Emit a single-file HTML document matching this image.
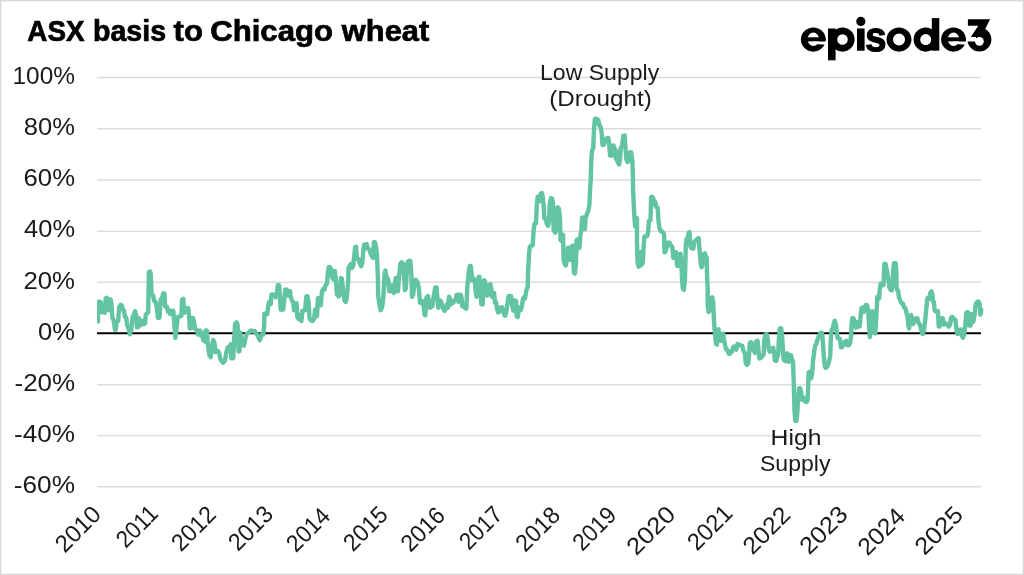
<!DOCTYPE html>
<html>
<head>
<meta charset="utf-8">
<title>ASX basis to Chicago wheat</title>
<style>
html,body{margin:0;padding:0;background:#fff;}
body{width:1024px;height:575px;overflow:hidden;font-family:"Liberation Sans",sans-serif;}
#chart{position:absolute;left:0;top:0;width:1024px;height:575px;box-sizing:border-box;border:1px solid #d8d8d8;box-shadow:inset 0 0 0 1px #f3f3f3;background:#fff;}
svg{position:absolute;left:-1px;top:-1px;will-change:transform;}
svg text{font-family:"Liberation Sans",sans-serif;fill:#1a1a1a;}
.ttl text{font-size:28.6px;font-weight:bold;fill:#000;stroke:#000;stroke-width:0.7px;}
.ax text{font-size:24px;}
.xl text{font-size:24px;}
.ann text{font-size:22.5px;}
</style>
</head>
<body>
<div id="chart">
<svg width="1024" height="575" viewBox="0 0 1024 575">
<g class="ttl">
<text y="41.45"><tspan x="27.37" textLength="57.10" lengthAdjust="spacingAndGlyphs">ASX</tspan> <tspan x="93.03" textLength="73.06" lengthAdjust="spacingAndGlyphs">basis</tspan> <tspan x="173.62" textLength="29.44" lengthAdjust="spacingAndGlyphs">to</tspan> <tspan x="210.24" textLength="122.73" lengthAdjust="spacingAndGlyphs">Chicago</tspan> <tspan x="341.87" textLength="87.33" lengthAdjust="spacingAndGlyphs">wheat</tspan></text>
</g>
<g id="logo" fill="#000" role="img" aria-label="episode3"><title>episode3</title>
<ellipse cx="813.3" cy="39.6" rx="12.4" ry="12.05"/><ellipse cx="813.3" cy="39.2" rx="5.7" ry="6.7" fill="#fff"/><rect x="805.3" y="37.3" width="20.10" height="4.1"/><polygon points="812.3,41.4 826.6999999999999,41.4 826.6999999999999,44.7 818.8,44.2 812.3,44.2" fill="#fff"/>
<rect x="828" y="28.5" width="7.6" height="31.8"/><path fill-rule="evenodd" d="M830.40,39.55 a12.1,12.1 0 1,0 24.20,0 a12.1,12.1 0 1,0 -24.20,0 Z M837.20,39.55 a5.3,5.3 0 1,0 10.60,0 a5.3,5.3 0 1,0 -10.60,0 Z"/>
<rect x="857" y="28.5" width="7.6" height="22.2"/><circle cx="860.8" cy="21.4" r="4.6"/>
<path d="M884.89 44.62Q884.89 47.84 882.49 49.67Q880.09 51.51 875.86 51.51Q871.69 51.51 869.48 50.06Q867.27 48.62 866.54 45.56L871.15 44.80Q871.55 46.38 872.51 47.04Q873.47 47.70 875.86 47.70Q878.06 47.70 879.07 47.08Q880.07 46.47 880.07 45.15Q880.07 44.09 879.26 43.46Q878.45 42.84 876.51 42.40Q872.07 41.44 870.52 40.61Q868.97 39.78 868.16 38.46Q867.35 37.13 867.35 35.21Q867.35 32.03 869.58 30.25Q871.81 28.48 875.89 28.48Q879.50 28.48 881.69 30.02Q883.88 31.56 884.42 34.47L879.78 35.00Q879.55 33.65 878.67 32.98Q877.80 32.31 875.89 32.31Q874.03 32.31 873.09 32.84Q872.16 33.36 872.16 34.59Q872.16 35.56 872.88 36.12Q873.60 36.68 875.30 37.05Q877.67 37.59 879.50 38.15Q881.34 38.71 882.45 39.49Q883.56 40.27 884.23 41.49Q884.89 42.71 884.89 44.62Z" stroke="#000" stroke-width="1.15"/>
<path fill-rule="evenodd" d="M886.55,39.55 a12.45,12.1 0 1,0 24.90,0 a12.45,12.1 0 1,0 -24.90,0 Z M893.00,39.55 a6.0,6.0 0 1,0 12.00,0 a6.0,6.0 0 1,0 -12.00,0 Z"/>
<path fill-rule="evenodd" d="M913.60,39.55 a12.1,12.1 0 1,0 24.20,0 a12.1,12.1 0 1,0 -24.20,0 Z M920.20,39.55 a5.5,5.5 0 1,0 11.00,0 a5.5,5.5 0 1,0 -11.00,0 Z"/><rect x="931.8" y="18.1" width="7.5" height="32.6"/>
<ellipse cx="953.5" cy="39.6" rx="12.4" ry="12.05"/><ellipse cx="953.5" cy="39.2" rx="5.7" ry="6.7" fill="#fff"/><rect x="945.5" y="37.3" width="20.10" height="4.1"/><polygon points="952.5,41.4 966.9,41.4 966.9,44.7 959.0,44.2 952.5,44.2" fill="#fff"/>
<circle cx="979.4" cy="39.6" r="12"/><polygon points="966.9,18.6 992,18.6 992,26.5 978,26.5 971,36.9 976,36.9 976,41.5 966.9,41.5" fill="#fff"/><circle cx="979.4" cy="41.3" r="4.4" fill="#fff"/><polygon points="967.9,19.3 990.1,19.3 983.4,32.4 979.5,36.9 971,36.9 978.3,25.8 967.9,25.8"/>
</g>
<g>
<line x1="97" x2="981" y1="77.55" y2="77.55" stroke="#dcdcdc" stroke-width="1.4"/>
<line x1="97" x2="981" y1="128.70" y2="128.70" stroke="#dcdcdc" stroke-width="1.4"/>
<line x1="97" x2="981" y1="179.95" y2="179.95" stroke="#dcdcdc" stroke-width="1.4"/>
<line x1="97" x2="981" y1="231.35" y2="231.35" stroke="#dcdcdc" stroke-width="1.4"/>
<line x1="97" x2="981" y1="282.20" y2="282.20" stroke="#dcdcdc" stroke-width="1.4"/>
<line x1="97" x2="981" y1="384.70" y2="384.70" stroke="#dcdcdc" stroke-width="1.4"/>
<line x1="97" x2="981" y1="435.65" y2="435.65" stroke="#dcdcdc" stroke-width="1.4"/>
<line x1="97" x2="981" y1="486.70" y2="486.70" stroke="#dcdcdc" stroke-width="1.4"/>
</g>
<line x1="97" x2="981" y1="333.27" y2="333.27" stroke="#000" stroke-width="2"/>
<clipPath id="plotclip"><rect x="96.9" y="60" width="900" height="440"/></clipPath>
<path clip-path="url(#plotclip)" d="M98.0,321.5 L98.1,302.1 L99.4,301.6 L100.7,302.1 L101.5,312.1 L103.2,312.2 L104.8,312.7 L105.7,298.3 L106.9,297.8 L108.2,299.6 L108.8,310.4 L109.8,300.1 L110.7,299.6 L111.5,304.6 L112.3,317.1 L113.8,320.9 L115.0,329.6 L115.7,329.8 L116.5,322.1 L118.2,320.9 L119.1,307.1 L120.7,304.8 L121.9,305.8 L122.8,309.7 L123.8,310.1 L125.1,317.1 L126.3,317.7 L127.0,324.6 L128.8,329.6 L129.9,334.3 L131.3,329.6 L132.6,317.1 L133.8,314.6 L135.1,311.4 L136.1,314.6 L137.0,327.3 L138.2,327.1 L138.8,318.2 L140.1,325.4 L141.6,320.7 L143.2,324.1 L145.1,323.4 L145.7,314.6 L147.0,313.4 L148.2,312.1 L148.9,272.0 L150.1,271.5 L150.8,274.5 L151.6,294.6 L153.2,295.2 L154.1,300.8 L155.8,302.1 L157.0,308.3 L157.9,317.9 L159.5,317.7 L160.8,299.6 L162.0,298.3 L163.3,293.3 L164.5,293.6 L165.2,306.6 L167.0,307.0 L167.9,311.6 L168.9,310.1 L170.2,314.1 L171.4,310.7 L173.3,310.9 L174.2,322.1 L175.3,337.9 L176.4,329.6 L177.7,317.1 L179.6,316.4 L181.4,316.0 L182.1,299.6 L183.3,298.8 L184.2,312.9 L185.8,308.3 L188.3,308.2 L189.2,318.4 L189.8,328.3 L191.3,328.2 L191.9,318.0 L193.2,318.1 L194.4,323.8 L195.0,328.8 L196.9,330.0 L198.2,334.6 L200.0,330.5 L201.3,335.8 L202.6,333.1 L203.2,340.1 L205.1,341.4 L205.7,330.5 L206.9,330.7 L207.8,343.8 L209.4,355.1 L210.7,357.1 L211.9,347.6 L213.2,339.9 L214.4,342.6 L215.7,352.1 L216.9,350.6 L218.2,351.3 L219.4,353.8 L220.3,358.9 L222.0,361.4 L223.2,362.7 L225.1,360.1 L226.3,352.6 L227.6,347.6 L228.8,346.8 L229.8,350.8 L230.7,344.3 L231.3,358.4 L233.2,358.2 L234.1,341.3 L235.1,323.8 L236.6,322.4 L237.6,325.0 L238.6,351.5 L239.5,351.3 L240.1,332.4 L241.4,338.8 L242.0,345.2 L243.9,345.7 L245.1,340.1 L246.4,334.4 L247.6,333.2 L249.5,331.9 L251.1,330.5 L252.7,331.4 L254.9,331.2 L256.4,333.2 L258.3,336.9 L259.9,340.2 L261.2,335.1 L262.4,334.3 L263.3,334.6 L264.2,325.0 L264.4,313.6 L265.7,313.9 L267.3,314.1 L268.2,305.8 L269.0,302.1 L270.0,301.9 L270.7,304.1 L271.5,294.6 L273.2,294.4 L274.4,294.6 L275.7,297.2 L276.9,294.6 L277.8,285.2 L279.1,285.1 L279.8,294.6 L280.7,309.6 L281.9,309.7 L283.2,309.6 L284.4,298.3 L285.3,289.6 L286.6,289.4 L287.6,295.3 L288.8,291.4 L290.1,291.3 L290.7,297.1 L292.0,300.8 L293.2,302.1 L294.1,310.4 L295.1,303.8 L296.6,303.3 L297.3,317.1 L298.6,319.1 L300.1,315.1 L301.4,321.0 L302.4,310.9 L303.9,310.7 L305.1,310.4 L306.4,296.4 L307.4,296.3 L308.6,302.1 L309.5,317.7 L310.8,320.4 L312.6,320.9 L314.1,319.0 L315.1,309.6 L316.1,309.5 L317.0,316.0 L317.9,298.3 L318.6,298.2 L319.5,305.3 L320.8,305.2 L322.0,291.4 L323.3,288.8 L324.5,289.7 L325.8,284.6 L327.0,283.9 L327.9,272.0 L328.9,266.9 L330.0,267.3 L331.2,269.2 L332.2,277.4 L333.5,279.4 L334.8,271.0 L336.0,281.1 L336.9,294.4 L338.8,296.4 L339.8,292.5 L341.0,278.0 L341.9,278.7 L343.1,291.3 L344.4,300.0 L345.7,302.0 L346.9,296.9 L348.2,281.2 L348.5,268.0 L349.8,266.1 L350.7,264.1 L351.9,268.1 L353.2,266.1 L354.1,257.3 L355.1,247.2 L356.1,246.7 L356.9,258.7 L358.6,259.2 L359.8,263.6 L361.1,266.2 L362.3,262.9 L363.2,252.3 L364.1,244.7 L365.7,244.3 L366.7,244.0 L367.6,248.7 L369.1,249.1 L370.3,252.9 L372.0,256.7 L373.2,257.8 L373.8,242.3 L374.8,242.2 L375.7,244.8 L377.0,254.8 L377.9,278.6 L378.1,295.0 L379.5,305.0 L380.7,310.2 L382.0,307.5 L383.2,300.0 L383.9,286.1 L384.6,273.6 L385.4,270.6 L386.4,276.1 L387.0,284.4 L388.2,279.1 L389.1,291.1 L390.8,291.3 L391.6,285.4 L392.6,286.1 L393.9,293.1 L394.9,283.6 L395.8,278.0 L397.0,277.9 L397.9,291.3 L399.1,276.1 L400.4,263.6 L401.6,262.2 L403.3,263.6 L404.1,276.1 L404.9,290.0 L405.8,288.6 L406.6,276.1 L407.9,261.7 L409.2,260.6 L410.4,261.1 L411.4,274.9 L412.0,296.9 L413.3,294.3 L414.5,282.4 L415.8,279.7 L417.7,282.4 L418.9,288.6 L419.9,302.5 L421.4,303.3 L422.7,301.1 L423.7,306.3 L424.6,315.1 L425.4,315.2 L426.4,297.5 L427.9,296.1 L428.9,301.3 L429.9,307.7 L431.4,306.9 L432.4,306.3 L433.3,298.8 L435.2,287.5 L436.5,287.4 L437.5,298.8 L438.3,307.7 L439.2,306.9 L440.2,300.5 L441.5,303.1 L442.7,307.5 L444.6,310.8 L445.9,307.5 L447.1,304.3 L448.0,307.7 L449.0,296.8 L450.0,298.8 L450.9,304.5 L452.1,300.5 L453.4,302.6 L454.6,300.5 L455.9,300.0 L456.5,294.9 L458.0,295.0 L458.5,301.8 L459.4,294.8 L460.7,294.7 L461.5,297.3 L462.3,306.2 L463.8,304.7 L465.1,308.1 L466.3,308.6 L467.3,287.3 L468.6,273.5 L469.8,265.9 L470.7,266.0 L471.6,273.5 L472.3,280.6 L473.6,278.4 L474.8,281.1 L475.7,292.3 L476.6,296.8 L477.6,287.3 L478.6,277.2 L479.4,276.7 L480.3,287.3 L481.3,304.2 L482.6,304.4 L483.2,287.3 L484.1,280.3 L485.1,281.1 L486.1,295.4 L487.3,295.6 L488.6,292.3 L489.5,284.7 L490.4,284.2 L491.4,289.8 L492.0,296.8 L493.2,292.8 L494.1,292.9 L494.9,302.5 L496.1,302.2 L497.0,308.6 L498.2,312.5 L499.5,311.7 L500.8,307.4 L502.0,307.2 L503.2,310.5 L504.5,315.5 L505.4,315.6 L506.4,311.1 L507.4,304.2 L508.6,296.1 L509.9,295.9 L511.1,296.1 L512.0,304.2 L513.3,310.6 L513.9,305.5 L514.9,300.3 L516.1,301.1 L516.6,316.1 L517.7,316.9 L518.7,311.1 L519.5,307.2 L520.8,310.0 L522.0,306.1 L522.9,299.2 L523.9,297.2 L524.9,298.7 L525.8,293.6 L526.7,289.2 L527.7,287.3 L528.0,274.1 L528.9,255.3 L529.8,246.6 L530.8,245.8 L532.7,245.3 L533.5,231.5 L534.5,223.8 L536.0,223.2 L536.8,205.1 L537.7,196.8 L538.9,196.9 L539.8,201.4 L540.6,193.8 L541.8,193.0 L542.7,196.3 L543.6,205.1 L544.3,218.3 L545.6,218.1 L546.8,223.8 L548.1,225.8 L549.0,221.3 L549.8,202.6 L551.1,198.0 L552.3,198.8 L553.1,205.1 L553.6,230.1 L555.2,232.7 L556.1,230.1 L556.8,208.8 L557.7,207.4 L559.0,208.8 L559.9,217.6 L560.6,240.1 L561.5,240.9 L562.1,234.4 L563.1,235.1 L563.6,260.3 L564.6,264.0 L565.9,265.4 L567.1,257.8 L568.1,247.6 L569.0,259.0 L570.2,259.8 L571.5,246.5 L572.8,245.8 L573.4,261.5 L574.0,272.8 L574.9,273.6 L575.9,265.3 L576.5,240.2 L577.4,239.5 L578.4,248.5 L579.4,247.8 L580.3,236.5 L581.5,228.8 L582.1,217.6 L583.4,217.4 L584.4,221.3 L584.9,229.0 L585.6,217.6 L586.9,214.4 L588.4,210.1 L589.4,205.1 L589.9,192.5 L590.7,180.0 L591.3,160.6 L592.0,150.6 L593.3,148.1 L593.8,133.1 L594.8,119.3 L595.8,118.5 L597.0,119.4 L598.3,119.8 L599.2,125.5 L600.4,126.2 L601.7,133.1 L602.5,145.1 L604.2,144.3 L605.4,139.3 L607.1,138.1 L608.3,137.9 L609.2,144.3 L610.1,155.6 L611.3,155.7 L612.3,145.6 L613.6,145.4 L614.8,149.3 L615.8,158.8 L616.7,151.1 L617.6,161.9 L619.2,164.5 L620.1,158.1 L620.8,148.1 L622.1,145.6 L623.3,135.6 L624.6,135.4 L625.5,148.1 L626.4,159.3 L627.6,162.0 L628.9,160.6 L629.9,152.5 L631.1,152.3 L632.4,160.6 L633.0,180.0 L633.0,188.8 L633.9,207.6 L634.6,220.1 L635.1,226.5 L636.1,218.1 L637.0,218.2 L637.0,242.8 L637.5,261.6 L638.5,266.7 L639.8,266.0 L640.7,252.1 L641.5,264.8 L642.8,262.8 L643.5,249.1 L644.4,236.5 L645.7,236.4 L647.3,236.0 L648.2,231.5 L648.9,220.7 L650.5,220.1 L650.9,207.6 L651.1,196.9 L652.1,196.8 L653.4,198.8 L654.3,204.6 L655.2,201.8 L656.2,206.9 L657.7,207.6 L658.4,220.1 L659.5,228.4 L660.7,231.0 L662.0,231.4 L663.2,232.8 L664.1,234.7 L664.5,252.3 L665.3,252.2 L666.6,247.8 L667.3,242.8 L669.5,242.7 L670.7,245.3 L672.4,247.2 L673.2,257.8 L674.5,257.9 L675.1,252.1 L676.1,252.2 L677.0,265.3 L678.2,266.1 L678.9,254.7 L680.4,253.9 L681.4,260.3 L682.0,279.1 L682.9,289.1 L683.9,289.9 L684.9,280.4 L685.4,261.6 L685.8,244.0 L686.6,238.9 L687.6,239.8 L688.6,232.6 L689.5,232.1 L690.4,246.6 L691.6,248.4 L693.3,248.6 L694.5,241.5 L696.1,240.3 L697.7,238.4 L698.7,238.3 L699.5,249.1 L700.8,264.1 L701.7,267.3 L702.7,262.8 L703.7,254.1 L704.9,253.3 L705.8,256.6 L706.7,257.8 L707.0,274.1 L707.7,289.1 L707.7,297.5 L707.7,305.0 L708.5,312.1 L709.8,310.0 L710.7,300.0 L712.3,297.4 L713.2,302.5 L714.0,321.3 L715.0,333.8 L716.0,343.9 L716.9,344.6 L717.6,330.1 L718.6,329.3 L719.4,340.1 L720.7,340.9 L721.9,335.1 L723.2,333.7 L724.1,340.1 L725.1,345.7 L726.3,349.6 L727.6,350.0 L728.8,353.9 L730.0,353.6 L731.9,351.6 L733.5,346.6 L735.0,346.4 L736.3,349.8 L737.5,343.9 L739.0,344.7 L740.6,345.4 L742.3,345.9 L743.5,350.9 L744.8,352.8 L745.7,362.8 L746.9,364.8 L748.2,363.4 L749.0,356.6 L749.8,342.8 L751.0,342.0 L752.3,347.8 L753.8,350.9 L755.0,352.9 L756.0,341.5 L757.6,340.8 L758.6,351.6 L759.4,358.6 L761.1,357.8 L762.3,355.9 L763.6,354.7 L764.4,339.0 L765.7,334.5 L766.6,334.0 L767.8,339.0 L768.6,348.4 L769.8,351.7 L771.1,348.4 L772.3,348.3 L773.2,347.8 L774.1,352.8 L774.8,360.4 L776.3,360.9 L777.3,355.8 L778.2,355.4 L778.9,337.8 L779.9,328.4 L781.1,328.3 L782.0,334.0 L782.9,349.1 L783.6,359.7 L785.1,361.1 L786.1,355.3 L787.4,353.3 L788.2,361.7 L789.5,361.6 L790.1,355.2 L791.1,355.3 L792.0,359.7 L793.0,361.6 L793.2,366.3 L793.8,385.1 L794.5,410.1 L795.3,420.8 L796.3,420.9 L797.3,412.6 L798.2,397.6 L799.1,388.2 L800.1,388.1 L801.1,391.3 L801.6,399.6 L802.6,396.8 L803.9,398.8 L805.1,401.5 L806.6,402.0 L807.6,400.1 L808.2,385.1 L808.6,372.5 L809.9,371.8 L811.1,378.3 L812.0,375.0 L812.6,367.5 L812.9,361.6 L813.9,354.1 L814.9,346.6 L816.2,344.0 L817.7,339.0 L819.2,335.3 L820.8,332.6 L822.1,332.8 L822.9,342.8 L823.9,357.8 L824.9,366.6 L825.8,368.0 L827.1,366.6 L828.7,362.8 L830.2,356.6 L830.8,339.0 L831.7,329.6 L832.7,329.0 L833.7,324.0 L834.7,320.7 L835.8,324.0 L836.7,331.5 L837.7,338.4 L839.0,338.5 L840.0,338.9 L840.9,347.3 L842.1,347.2 L843.4,344.7 L844.6,342.2 L846.2,340.8 L847.5,345.4 L848.7,345.3 L850.2,342.8 L851.2,334.0 L851.5,325.1 L852.3,318.2 L853.5,318.1 L854.8,323.9 L856.0,327.7 L857.5,321.9 L858.8,326.5 L859.8,326.4 L860.7,315.1 L861.5,308.2 L862.8,307.4 L863.8,312.1 L864.8,307.6 L866.0,304.9 L866.9,305.1 L868.2,310.1 L869.1,326.4 L869.8,337.1 L870.7,326.4 L871.3,312.6 L872.3,311.2 L873.2,320.1 L874.1,332.6 L875.3,333.4 L876.1,320.1 L876.6,311.3 L877.3,296.9 L878.2,296.8 L879.1,298.3 L879.8,288.8 L880.7,283.6 L882.0,283.8 L882.8,285.2 L883.5,285.1 L884.0,271.3 L884.4,263.8 L885.7,264.1 L886.5,268.8 L887.6,275.1 L888.6,281.3 L889.4,287.6 L890.7,290.1 L891.9,290.2 L892.6,281.3 L893.2,270.1 L894.1,263.2 L895.7,263.1 L896.3,270.1 L896.6,287.6 L897.3,290.1 L898.2,290.7 L898.9,296.9 L900.1,300.1 L901.6,303.3 L902.9,303.7 L904.1,307.6 L905.4,308.2 L906.6,313.2 L907.6,317.6 L908.3,325.1 L909.1,328.4 L910.1,320.1 L911.1,315.0 L912.4,320.1 L913.3,324.0 L914.5,319.5 L916.1,318.2 L917.4,318.1 L918.3,322.6 L919.5,323.9 L920.8,328.2 L922.0,333.2 L922.9,334.0 L923.9,330.1 L925.2,320.1 L926.4,307.6 L927.4,298.2 L928.7,297.4 L929.5,298.9 L930.4,292.6 L931.4,291.2 L932.4,294.4 L932.9,301.3 L933.9,301.9 L934.6,310.1 L935.8,311.5 L937.1,311.2 L938.0,311.3 L938.7,326.4 L939.6,326.5 L940.5,319.5 L941.7,318.1 L942.7,318.2 L943.7,324.6 L945.0,323.1 L946.2,323.9 L947.5,325.1 L948.7,326.5 L950.0,325.1 L950.9,318.2 L952.1,316.8 L953.4,318.2 L954.6,320.2 L955.5,320.0 L956.5,330.1 L957.7,334.0 L959.0,330.1 L960.9,329.4 L962.1,336.4 L963.0,337.8 L964.0,335.1 L965.2,326.4 L966.3,312.7 L967.4,312.0 L968.4,312.7 L968.9,319.8 L969.5,325.5 L970.5,325.6 L971.0,314.3 L971.8,314.4 L972.6,322.4 L973.4,321.3 L974.2,316.6 L974.8,313.5 L975.4,306.4 L976.2,303.1 L977.1,302.1 L978.3,301.6 L979.5,303.1 L980.1,309.6 L980.3,314.6 L980.9,313.5 L981.2,309.6" fill="none" stroke="#63c3a5" stroke-width="4.4" stroke-linejoin="round" stroke-linecap="round"/>
<g class="ax">
<text x="12.50" y="84.07" textLength="62.44" lengthAdjust="spacingAndGlyphs">100%</text>
<text x="23.73" y="135.21" textLength="51.26" lengthAdjust="spacingAndGlyphs">80%</text>
<text x="23.57" y="186.35" textLength="51.41" lengthAdjust="spacingAndGlyphs">60%</text>
<text x="24.12" y="237.49" textLength="50.93" lengthAdjust="spacingAndGlyphs">40%</text>
<text x="23.46" y="288.63" textLength="51.60" lengthAdjust="spacingAndGlyphs">20%</text>
<text x="37.98" y="339.77" textLength="36.97" lengthAdjust="spacingAndGlyphs">0%</text>
<text x="14.49" y="390.91" textLength="60.70" lengthAdjust="spacingAndGlyphs">-20%</text>
<text x="14.09" y="442.05" textLength="60.98" lengthAdjust="spacingAndGlyphs">-40%</text>
<text x="13.73" y="493.19" textLength="61.27" lengthAdjust="spacingAndGlyphs">-60%</text>
</g>
<g class="xl">
<text transform="translate(77.53,528.62) rotate(-45)" text-anchor="middle" x="0" y="8.6" textLength="53.67" lengthAdjust="spacingAndGlyphs">2010</text>
<text transform="translate(136.53,525.89) rotate(-45)" text-anchor="middle" x="0" y="8.6" textLength="47.96" lengthAdjust="spacingAndGlyphs">2011</text>
<text transform="translate(193.11,528.12) rotate(-45)" text-anchor="middle" x="0" y="8.6" textLength="51.73" lengthAdjust="spacingAndGlyphs">2012</text>
<text transform="translate(250.25,527.81) rotate(-45)" text-anchor="middle" x="0" y="8.6" textLength="51.54" lengthAdjust="spacingAndGlyphs">2013</text>
<text transform="translate(307.72,529.27) rotate(-45)" text-anchor="middle" x="0" y="8.6" textLength="50.46" lengthAdjust="spacingAndGlyphs">2014</text>
<text transform="translate(365.07,528.15) rotate(-45)" text-anchor="middle" x="0" y="8.6" textLength="51.33" lengthAdjust="spacingAndGlyphs">2015</text>
<text transform="translate(422.37,529.03) rotate(-45)" text-anchor="middle" x="0" y="8.6" textLength="50.88" lengthAdjust="spacingAndGlyphs">2016</text>
<text transform="translate(480.40,527.40) rotate(-45)" text-anchor="middle" x="0" y="8.6" textLength="49.25" lengthAdjust="spacingAndGlyphs">2017</text>
<text transform="translate(537.31,528.63) rotate(-45)" text-anchor="middle" x="0" y="8.6" textLength="51.39" lengthAdjust="spacingAndGlyphs">2018</text>
<text transform="translate(593.99,528.22) rotate(-45)" text-anchor="middle" x="0" y="8.6" textLength="50.19" lengthAdjust="spacingAndGlyphs">2019</text>
<text transform="translate(650.46,530.14) rotate(-45)" text-anchor="middle" x="0" y="8.6" textLength="57.33" lengthAdjust="spacingAndGlyphs">2020</text>
<text transform="translate(709.37,527.17) rotate(-45)" text-anchor="middle" x="0" y="8.6" textLength="52.27" lengthAdjust="spacingAndGlyphs">2021</text>
<text transform="translate(766.15,530.03) rotate(-45)" text-anchor="middle" x="0" y="8.6" textLength="55.58" lengthAdjust="spacingAndGlyphs">2022</text>
<text transform="translate(823.16,529.63) rotate(-45)" text-anchor="middle" x="0" y="8.6" textLength="56.65" lengthAdjust="spacingAndGlyphs">2023</text>
<text transform="translate(880.83,531.14) rotate(-45)" text-anchor="middle" x="0" y="8.6" textLength="55.23" lengthAdjust="spacingAndGlyphs">2024</text>
<text transform="translate(938.38,530.17) rotate(-45)" text-anchor="middle" x="0" y="8.6" textLength="56.76" lengthAdjust="spacingAndGlyphs">2025</text>
</g>
<g class="ann">
<text x="540.00" y="79.60" textLength="119.20" lengthAdjust="spacingAndGlyphs">Low Supply</text>
<text x="549.20" y="105.90" textLength="102.60" lengthAdjust="spacingAndGlyphs">(Drought)</text>
<text x="770.60" y="444.80" textLength="50.80" lengthAdjust="spacingAndGlyphs">High</text>
<text x="760.00" y="471.10" textLength="70.40" lengthAdjust="spacingAndGlyphs">Supply</text>
</g>
</svg>
</div>
</body>
</html>
